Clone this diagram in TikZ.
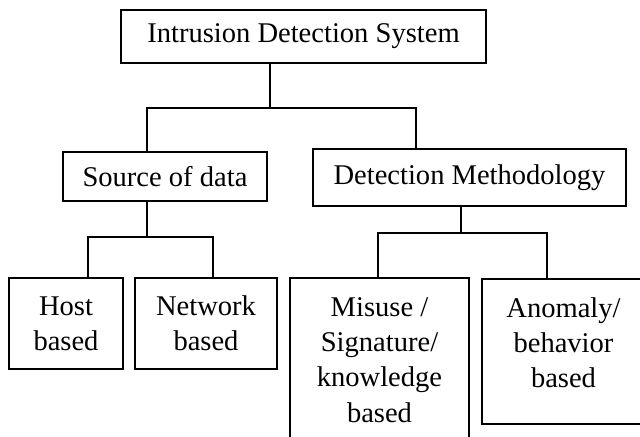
\documentclass[tikz,border=0pt]{standalone}
\usepackage{fontspec}
\setmainfont{Liberation Serif}
\begin{document}
\begin{tikzpicture}[x=0.025cm,y=-0.025cm,
    box/.style={draw,line width=1pt,inner sep=0pt,align=center,font=\fontsize{20.3}{25}\selectfont},
    txt/.style={inner sep=0pt,align=center,font=\fontsize{20.3}{25}\selectfont},
    wire/.style={line width=1pt}
]
\useasboundingbox (0,0) rectangle (640,436);

\node[box,minimum width=9.125cm,minimum height=1.325cm] (ids) at (303.5,36.5) {Intrusion Detection System};
\node[box,minimum width=5.1cm,minimum height=1.225cm]   (src) at (165,176.5)  {Source of data};
\node[box,minimum width=7.825cm,minimum height=1.425cm] (det) at (469.5,177.5) {Detection Methodology};
\node[box,minimum width=2.85cm,minimum height=2.275cm]  (host) at (66,323.5)  {Host\\based};
\node[box,minimum width=3.55cm,minimum height=2.275cm]  (net)  at (206,323.5) {Network\\based};
\node[box,minimum width=4.475cm,minimum height=4.1cm]   (mis)  at (379.5,360) {Misuse /\\Signature/\\knowledge\\based};
\node[box,minimum width=4.075cm,minimum height=3.625cm] (ano)  at (563.5,351.5) {};
\node[txt] (anotxt) at (563.5,343) {Anomaly/\\behavior\\based};

\coordinate (j0) at (270,108);
\coordinate (j1) at (147,237);
\coordinate (j2) at (461,233);

\draw[wire] (ids.south -| j0) -- (j0);
\draw[wire] (src.north -| 147,0) |- (j0) -| (det.north -| 416,0);
\draw[wire] (src.south -| j1) -- (j1);
\draw[wire] (host.north -| 88,0) |- (j1) -| (net.north -| 213,0);
\draw[wire] (det.south -| j2) -- (j2);
\draw[wire] (mis.north -| 378,0) |- (j2) -| (ano.north -| 547,0);
\end{tikzpicture}
\end{document}
